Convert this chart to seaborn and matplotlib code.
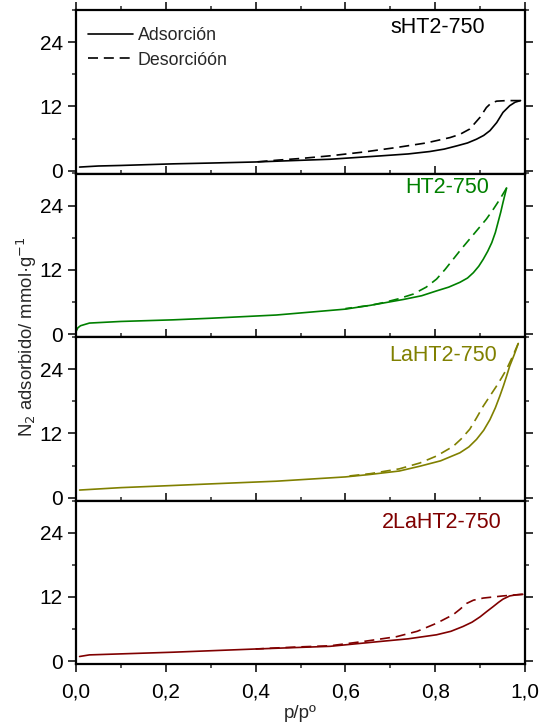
import numpy as np
import pandas as pd
import matplotlib
matplotlib.use("Agg")
import matplotlib.pyplot as plt
from matplotlib.ticker import MultipleLocator, FuncFormatter
from matplotlib.lines import Line2D
import seaborn as sns

sns.set_theme(style="ticks")
plt.rcParams["font.family"] = ["Liberation Sans", "DejaVu Sans"]

# sHT2-750
s_ads_p = [0.008, 0.05, 0.1, 0.216, 0.3, 0.4, 0.48, 0.566, 0.677, 0.74, 0.788, 0.82, 0.848, 0.872, 0.892, 0.908, 0.922, 0.937, 0.951, 0.966, 0.978, 0.99]
s_ads_v = [0.7, 0.9, 1.0, 1.3, 1.45, 1.65, 1.9, 2.16, 2.78, 3.15, 3.6, 4.05, 4.65, 5.2, 5.9, 6.6, 7.5, 9.0, 10.9, 12.15, 12.8, 13.1]
s_des_p = [0.99, 0.959, 0.937, 0.924, 0.914, 0.9, 0.877, 0.855, 0.833, 0.78, 0.714, 0.64, 0.566, 0.5, 0.45, 0.4]
s_des_v = [13.1, 13.1, 13.0, 12.6, 11.8, 10.0, 7.8, 6.8, 6.2, 5.2, 4.35, 3.5, 2.8, 2.3, 2.0, 1.65]

# HT2-750
h_ads_p = [0.0, 0.004, 0.01, 0.03, 0.1, 0.216, 0.3, 0.446, 0.6, 0.655, 0.729, 0.77, 0.803, 0.83, 0.855, 0.872, 0.885, 0.897, 0.907, 0.917, 0.926, 0.934, 0.94, 0.946, 0.951, 0.959]
h_ads_v = [0.5, 1.2, 1.6, 2.1, 2.4, 2.7, 3.0, 3.6, 4.7, 5.4, 6.5, 7.2, 8.1, 8.8, 9.7, 10.5, 11.5, 12.7, 14.0, 15.5, 17.1, 19.0, 20.9, 22.8, 24.6, 27.3]
h_des_p = [0.959, 0.944, 0.93, 0.914, 0.895, 0.877, 0.858, 0.84, 0.822, 0.803, 0.78, 0.751, 0.717, 0.684, 0.655, 0.6]
h_des_v = [27.3, 25.2, 23.4, 21.5, 19.6, 17.8, 15.9, 14.0, 12.1, 10.3, 8.8, 7.5, 6.6, 5.9, 5.4, 4.8]

# LaHT2-750
l_ads_p = [0.008, 0.1, 0.216, 0.3, 0.446, 0.6, 0.655, 0.72, 0.766, 0.812, 0.855, 0.875, 0.892, 0.908, 0.922, 0.934, 0.944, 0.952, 0.959, 0.966, 0.976, 0.985]
l_ads_v = [1.45, 1.9, 2.3, 2.6, 3.1, 3.9, 4.36, 5.0, 5.9, 6.9, 8.4, 9.5, 10.9, 12.6, 14.6, 16.8, 19.0, 20.9, 22.7, 24.6, 26.7, 28.8]
l_des_p = [0.985, 0.972, 0.959, 0.948, 0.937, 0.922, 0.907, 0.892, 0.877, 0.858, 0.84, 0.803, 0.766, 0.72, 0.655, 0.6]
l_des_v = [28.8, 26.3, 24.0, 22.4, 20.9, 19.0, 17.1, 14.9, 12.8, 11.0, 9.6, 7.8, 6.5, 5.4, 4.5, 4.0]

# 2LaHT2-750
d_ads_p = [0.008, 0.03, 0.216, 0.4, 0.566, 0.677, 0.74, 0.803, 0.835, 0.862, 0.882, 0.9, 0.915, 0.929, 0.941, 0.951, 0.966, 0.98, 0.995]
d_ads_v = [0.9, 1.2, 1.7, 2.3, 2.8, 3.7, 4.2, 4.95, 5.6, 6.5, 7.3, 8.3, 9.3, 10.2, 11.0, 11.6, 12.2, 12.4, 12.5]
d_des_p = [0.995, 0.951, 0.907, 0.885, 0.87, 0.855, 0.84, 0.803, 0.76, 0.714, 0.64, 0.566, 0.5, 0.446, 0.4]
d_des_v = [12.5, 12.2, 11.8, 11.4, 10.8, 9.7, 8.7, 7.1, 5.6, 4.6, 3.7, 2.9, 2.7, 2.5, 2.3]

samples = ["sHT2-750", "HT2-750", "LaHT2-750", "2LaHT2-750"]
colors = ["#000000", "#008000", "#808000", "#800000"]
branches = [
    (s_ads_p, s_ads_v, s_des_p, s_des_v),
    (h_ads_p, h_ads_v, h_des_p, h_des_v),
    (l_ads_p, l_ads_v, l_des_p, l_des_v),
    (d_ads_p, d_ads_v, d_des_p, d_des_v),
]
label_pos = [(0.911, 0.893), (0.92, 0.914), (0.937, 0.886), (0.947, 0.868)]

fig = plt.figure(figsize=(5.45, 7.24), dpi=100)
left, right = 76 / 545, 525 / 545
top, bottom = 1 - 10 / 724, 1 - 664 / 724
h = (top - bottom) / 4

comma = FuncFormatter(lambda v, _: f"{v:.1f}".replace(".", ","))
dash = (6, 3.5)

axes = []
for i, (name, col, br, lp) in enumerate(zip(samples, colors, branches, label_pos)):
    ax = fig.add_axes([left, top - (i + 1) * h, right - left, h])
    axes.append(ax)
    ap, av, dp, dv = br
    df = pd.concat([
        pd.DataFrame({"p": ap, "n": av, "rama": "Adsorción"}),
        pd.DataFrame({"p": dp, "n": dv, "rama": "Desorción"}),
    ])
    sns.lineplot(data=df, x="p", y="n", style="rama", sort=False, estimator=None,
                 color=col, lw=1.2, ax=ax, legend=False,
                 dashes={"Adsorción": "", "Desorción": dash})
    ax.set_xlim(0, 1.0)
    ax.set_ylim(-0.5, 30)
    ax.set_xlabel("")
    ax.set_ylabel("")
    ax.yaxis.set_major_locator(MultipleLocator(12))
    ax.yaxis.set_minor_locator(MultipleLocator(6))
    ax.xaxis.set_major_locator(MultipleLocator(0.2))
    ax.xaxis.set_minor_locator(MultipleLocator(0.1))
    ax.tick_params(axis="both", which="major", length=6, width=1.1,
                   labelsize=15, colors="black")
    ax.tick_params(axis="both", which="minor", length=3, width=1.1)
    ax.tick_params(axis="y", which="both", left=True, right=True, direction="out")
    ax.tick_params(axis="x", which="both", bottom=True, top=True, direction="in")
    ax.tick_params(axis="x", which="both", bottom=True, direction="out")
    ax.tick_params(axis="x", which="major", pad=7)
    for s in ax.spines.values():
        s.set_linewidth(1.6)
        s.set_color("black")
    ax.text(lp[0], lp[1], name, transform=ax.transAxes, ha="right", va="center",
            fontsize=15.5, color=col)
    if i < 3:
        ax.tick_params(axis="x", labelbottom=False)
    else:
        ax.xaxis.set_major_formatter(comma)
        ax.set_xlabel("p/pº", fontsize=13.5, labelpad=3)

handles = [Line2D([], [], color="black", lw=1.2),
           Line2D([], [], color="black", lw=1.2, ls=(0, dash))]
axes[0].legend(handles, ["Adsorción", "Desorcióón"], loc="upper left",
               bbox_to_anchor=(0.027, 0.895), frameon=False, fontsize=12.8,
               handlelength=2.5, handletextpad=0.3, borderaxespad=0,
               borderpad=0, labelspacing=0.42)

fig.text(0.05, (top + bottom) / 2, "N$_2$ adsorbido/ mmol·g$^{-1}$",
         rotation=90, ha="center", va="center", fontsize=13.3)

fig.savefig("out.png", dpi=100)
